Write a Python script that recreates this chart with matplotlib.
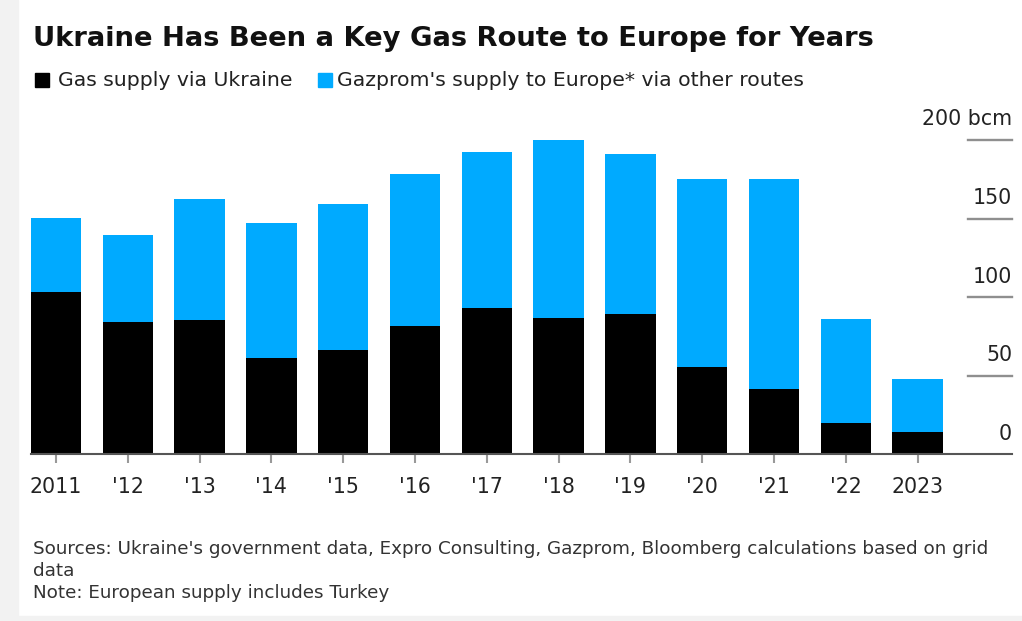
#!/usr/bin/env python3

import matplotlib
matplotlib.use("Agg")
import matplotlib.pyplot as plt
import matplotlib.patches as pp
import matplotlib.transforms as mt

# values (bcm)
years = ["2011", "'12", "'13", "'14", "'15", "'16", "'17", "'18", "'19", "'20", "'21", "'22", "2023"]
via_ukraine = [103.5, 84.5, 85.7, 61.5, 66.5, 81.8, 93.0, 87.0, 89.2, 55.8, 41.7, 19.7, 14.4]
total_supply = [150.6, 139.3, 162.3, 147.4, 159.3, 178.6, 192.6, 201.5, 191.2, 175.2, 175.2, 85.9, 47.7]
other_routes = [t - u for t, u in zip(total_supply, via_ukraine)]
y_ticks = [0, 50, 100, 150, 200]
y_labels = ["0", "50", "100", "150", "200 bcm"]

BLUE = "#00aaff"
W, H = 1022, 621


def fx(px):
    return px / W


def fy(py):
    return 1 - py / H


def main():
    plt.rcParams['font.family'] = ['DejaVu Sans']
    fig = plt.figure(figsize=(W / 100, H / 100), dpi=100)
    fig.patch.set_facecolor("white")

    # light border strips like the screenshot
    fig.patches.append(pp.Rectangle((0, 0), fx(18), 1, transform=fig.transFigure,
                                    color="#f2f2f2", zorder=0))
    fig.patches.append(pp.Rectangle((0, 0), 1, 5 / H, transform=fig.transFigure,
                                    color="#f2f2f2", zorder=0))

    left, right, top, base = 31, 1012, 140, 454.3
    ax = fig.add_axes([fx(left), fy(base), fx(right - left), fy(top) - fy(base)])
    x = list(range(len(years)))
    ax.bar(x, via_ukraine, width=0.7, color="black", zorder=2)
    ax.bar(x, other_routes, bottom=via_ukraine, width=0.7, color=BLUE, zorder=2)

    spacing = 71.8
    ax.set_xlim(-(56 - left) / spacing, (right - 56) / spacing)
    ax.set_ylim(0, 200)

    for s in ["top", "right", "left"]:
        ax.spines[s].set_visible(False)
    ax.spines["bottom"].set_color("#555555")
    ax.spines["bottom"].set_linewidth(1.5)
    ax.spines["bottom"].set_zorder(3)

    ax.set_xticks(x)
    ax.set_xticklabels(years)
    ax.tick_params(axis="x", length=6.5, width=1.5, color="#999999", pad=10,
                   labelsize=14.8, labelcolor="#222222")
    ax.set_yticks([])

    gx0 = (968 - left) / (right - left)
    tr = mt.blended_transform_factory(ax.transAxes, ax.transData)
    for v, lab in zip(y_ticks, y_labels):
        if v > 0:
            ax.axhline(v, xmin=gx0, xmax=1, color="#8f8f8f", lw=1.7, zorder=1, clip_on=False)
        ax.annotate(lab, xy=(1, v), xycoords=tr, xytext=(0, 10.5), textcoords="offset points",
                    ha="right", va="baseline", fontsize=14.8, color="#222222",
                    annotation_clip=False)

    fig.text(fx(33), fy(46), "Ukraine Has Been a Key Gas Route to Europe for Years",
             fontsize=19.7, fontweight="bold", color="#111111", va="baseline")

    # legend
    fig.patches.append(pp.Rectangle((fx(35), fy(87)), fx(14), fy(73) - fy(87),
                                    transform=fig.transFigure, color="black"))
    fig.text(fx(58), fy(86), "Gas supply via Ukraine", fontsize=14.7, color="#222222",
             va="baseline")
    fig.patches.append(pp.Rectangle((fx(318), fy(87)), fx(14), fy(73) - fy(87),
                                    transform=fig.transFigure, color=BLUE))
    fig.text(fx(337), fy(86), "Gazprom's supply to Europe* via other routes", fontsize=14.7,
             color="#222222", va="baseline")

    foot = dict(fontsize=13.2, color="#333333", va="baseline")
    fig.text(fx(33), fy(554), "Sources: Ukraine's government data, Expro Consulting, Gazprom, "
             "Bloomberg calculations based on grid", **foot)
    fig.text(fx(33), fy(576), "data", **foot)
    fig.text(fx(33), fy(598), "Note: European supply includes Turkey", **foot)

    fig.savefig("out.png", dpi=100)


if __name__ == '__main__':
    main()
